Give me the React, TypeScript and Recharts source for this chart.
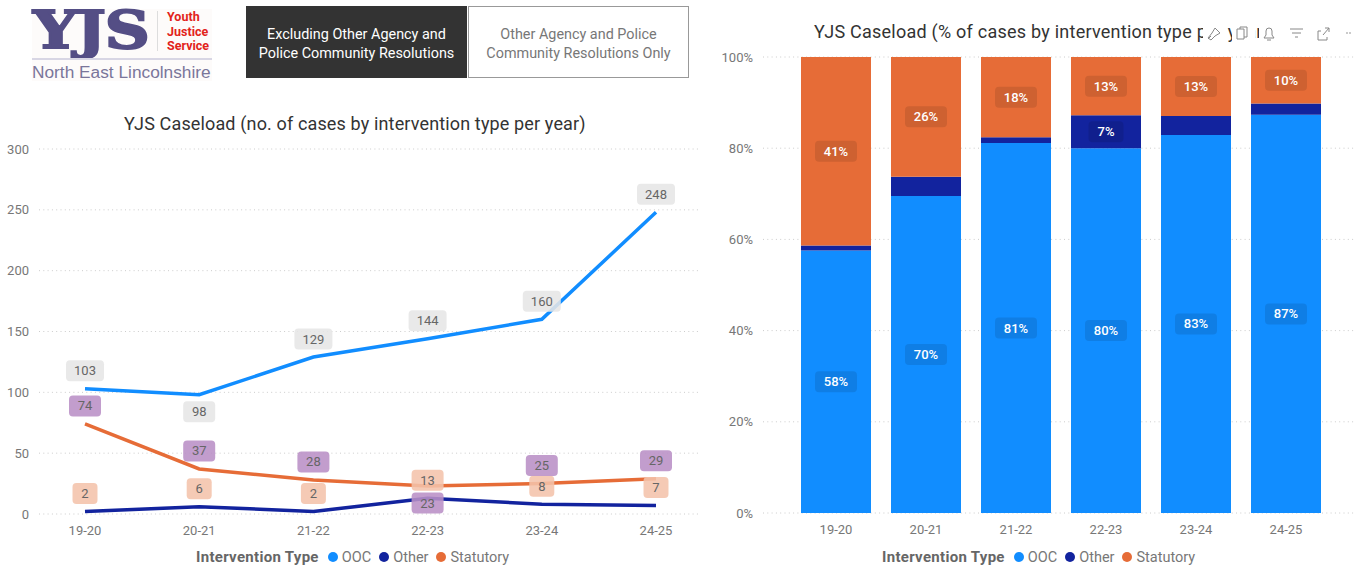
import {
  BarChart,
  Bar,
  LineChart,
  Line,
  XAxis,
  YAxis,
  CartesianGrid,
  LabelList,
} from 'recharts'

const years = ['19-20', '20-21', '21-22', '22-23', '23-24', '24-25']
const ooc = [103, 98, 129, 144, 160, 248]
const other = [2, 6, 2, 13, 8, 7]
const statutory = [74, 37, 28, 23, 25, 29]
const countTicks = [0, 50, 100, 150, 200, 250, 300]
const shareTicks = [0, 0.2, 0.4, 0.6, 0.8, 1]

const rows = years.map((year, i) => ({
  year,
  OOC: ooc[i],
  Other: other[i],
  Statutory: statutory[i],
}))

const BLUE = '#118dff'
const NAVY = '#12239e'
const ORANGE = '#e66c37'
const FONT = 'Roboto, sans-serif'
const tickStyle = { fontSize: 13, fill: '#777', fontFamily: FONT }

function pillWidth(text: string) {
  return text.length === 1 ? 25 : text.length === 2 ? 32 : 38
}

// count labels sit 18px above the line, unless the year is listed in `below`
function countLabel(fill: string, below: string[] = []) {
  return (props: any) => {
    const x = props.x ?? props.viewBox?.x
    const y = props.y ?? props.viewBox?.y
    const text = String(props.value)
    const cy = below.includes(years[props.index]) ? y + 17 : y - 18
    const w = pillWidth(text)
    return (
      <g>
        <rect x={x - w / 2} y={cy - 10.5} width={w} height={21} rx={4} fill={fill} fillOpacity={0.88} />
        <text x={x} y={cy + 4.5} textAnchor="middle" fontSize={13} fontFamily={FONT} fill="#666">
          {text}
        </text>
      </g>
    )
  }
}

// share labels are centred on the segment, small segments get none
function shareLabel(series: number[]) {
  return (props: any) => {
    const box = props.viewBox ?? props
    const i = props.index
    const share = series[i] / (ooc[i] + other[i] + statutory[i])
    if (share < 0.05) return null
    const text = `${Math.round(share * 100)}%`
    const cx = box.x + box.width / 2
    const cy = box.y + box.height / 2
    const w = text.length === 2 ? 35 : 42
    return (
      <g>
        <rect x={cx - w / 2} y={cy - 10.5} width={w} height={21} rx={4} fill="#000" fillOpacity={0.1} />
        <text x={cx} y={cy + 4.5} textAnchor="middle" fontSize={13} fontWeight={500} fontFamily={FONT} fill="#fff">
          {text}
        </text>
      </g>
    )
  }
}

function ChartLegend({ left }: { left: number }) {
  const items = [
    ['OOC', BLUE],
    ['Other', NAVY],
    ['Statutory', ORANGE],
  ]
  return (
    <div
      style={{
        position: 'absolute',
        left,
        top: 548,
        height: 18,
        display: 'flex',
        alignItems: 'center',
        fontFamily: FONT,
        fontSize: 14.5,
        color: '#777',
        whiteSpace: 'nowrap',
      }}
    >
      <b style={{ color: '#666', fontSize: 15, marginRight: 9, letterSpacing: 0.3 }}>Intervention Type</b>
      {items.map(([name, color]) => (
        <span key={name} style={{ display: 'flex', alignItems: 'center', marginRight: 8 }}>
          <i style={{ width: 10, height: 10, borderRadius: 5, background: color, marginRight: 4 }} />
          {name}
        </span>
      ))}
    </div>
  )
}

function Logo() {
  return (
    <div style={{ position: 'absolute', left: 32, top: 9, width: 180, height: 72, background: '#fdfbfa' }}>
      <div
        style={{
          position: 'absolute',
          left: 1,
          top: -9,
          fontFamily: '"DejaVu Serif", serif',
          fontWeight: 700,
          fontSize: 52,
          lineHeight: '60px',
          letterSpacing: -1,
          color: '#544e85',
          WebkitTextStroke: '2px #544e85',
          transform: 'scaleX(1.2)',
          transformOrigin: 'left center',
        }}
      >
        YJS
      </div>
      <div style={{ position: 'absolute', left: 125, top: 2, width: 1, height: 40, background: '#ddd' }} />
      <div
        style={{
          position: 'absolute',
          left: 135,
          top: 1,
          fontFamily: FONT,
          fontWeight: 700,
          fontSize: 12.5,
          lineHeight: '14.5px',
          color: '#e2231a',
        }}
      >
        Youth
        <br />
        Justice
        <br />
        Service
      </div>
      <div style={{ position: 'absolute', left: 0, top: 49, width: 180, height: 2, background: '#d8d6e4' }} />
      <div
        style={{
          position: 'absolute',
          left: 0,
          top: 53,
          width: 180,
          fontFamily: 'Liberation Sans, sans-serif',
          fontSize: 17.3,
          lineHeight: '20px',
          color: '#7a769a',
          whiteSpace: 'nowrap',
        }}
      >
        North East Lincolnshire
      </div>
    </div>
  )
}

function SlicerButton({ left, active, lines }: { left: number; active: boolean; lines: string[] }) {
  return (
    <div
      style={{
        position: 'absolute',
        left,
        top: 6,
        width: 221,
        height: 72,
        boxSizing: 'border-box',
        paddingTop: 3,
        border: `1px solid ${active ? '#333' : '#999'}`,
        background: active ? '#333' : '#fff',
        color: active ? '#fff' : '#777',
        display: 'flex',
        flexDirection: 'column',
        alignItems: 'center',
        justifyContent: 'center',
        fontFamily: FONT,
        fontSize: 14.4,
        lineHeight: '19px',
      }}
    >
      {lines.map((t) => (
        <span key={t}>{t}</span>
      ))}
    </div>
  )
}

function ChartTitle({ text, left, top, spacing }: { text: string; left: number; top: number; spacing: number }) {
  return (
    <div
      style={{
        position: 'absolute',
        left,
        top,
        fontFamily: FONT,
        fontSize: 18,
        lineHeight: '24px',
        letterSpacing: spacing,
        color: '#333',
        whiteSpace: 'nowrap',
      }}
    >
      {text}
    </div>
  )
}

// visual header icons that sit over the end of the right-hand title
function Toolbar() {
  const patches = [
    [1203, 24],
    [1232, 23],
    [1259, 103],
  ]
  const s = { fill: 'none', stroke: '#888', strokeWidth: 1 }
  return (
    <svg width={1362} height={60} style={{ position: 'absolute', left: 0, top: 0 }}>
      {patches.map(([x, w]) => (
        <rect key={x} x={x} y={20} width={w} height={26} fill="#fff" />
      ))}
      <path d="M1208 38 L1212 33 L1215 28 L1220 33 L1215 36 L1211 40 Z M1208 39 L1211 36" {...s} />
      <path d="M1237 29 h7 v10 h-7 Z M1240 29 v-2 h7 v10 h-3" {...s} />
      <path d="M1264 38 h10 l-2 -3 v-4 a3 3 0 0 0 -6 0 v4 Z M1267 40 h4" {...s} />
      <path d="M1290 29 h13 M1292 33 h9 M1295 37 h3" {...s} />
      <path d="M1318 31 v9 h9 M1318 31 h3 M1327 37 v3 M1323 35 l6 -7 M1325 28 h4 v4" {...s} />
      <circle cx={1347} cy={33} r={0.8} fill="#888" />
      <circle cx={1350} cy={33} r={0.8} fill="#888" />
    </svg>
  )
}

export default function App() {
  return (
    <div
      style={{
        position: 'absolute',
        left: 0,
        top: 0,
        width: 1362,
        height: 568,
        overflow: 'hidden',
        background: '#fff',
      }}
    >
      <Logo />
      <SlicerButton left={246} active lines={['Excluding Other Agency and', 'Police Community Resolutions']} />
      <SlicerButton left={468} active={false} lines={['Other Agency and Police', 'Community Resolutions Only']} />

      <ChartTitle text="YJS Caseload (no. of cases by intervention type per year)" left={124} top={112} spacing={0.14} />
      <div style={{ position: 'absolute', left: 0, top: 0 }}>
        <LineChart width={710} height={568} data={rows} margin={{ top: 149, right: 12, bottom: 0, left: 0 }}>
          <CartesianGrid horizontal vertical={false} stroke="#ccc" strokeDasharray="1 3.3" />
          <XAxis
            dataKey="year"
            scale="point"
            padding={{ left: 46, right: 42 }}
            height={54}
            tick={tickStyle}
            tickMargin={6}
            axisLine={false}
            tickLine={false}
          />
          <YAxis
            domain={[0, 300]}
            ticks={countTicks}
            width={39}
            tick={tickStyle}
            tickMargin={4}
            axisLine={false}
            tickLine={false}
          />
          <Line dataKey="OOC" stroke={BLUE} strokeWidth={3.5} dot={false} isAnimationActive={false}>
            <LabelList dataKey="OOC" content={countLabel('#e6e6e6', ['20-21'])} />
          </Line>
          <Line dataKey="Other" stroke={NAVY} strokeWidth={3.5} dot={false} isAnimationActive={false}>
            <LabelList dataKey="Other" content={countLabel('#f4c3ab')} />
          </Line>
          <Line dataKey="Statutory" stroke={ORANGE} strokeWidth={3.5} dot={false} isAnimationActive={false}>
            <LabelList dataKey="Statutory" content={countLabel('#b98fc6', ['22-23'])} />
          </Line>
        </LineChart>
      </div>
      <ChartLegend left={196} />

      <div style={{ position: 'absolute', left: 710, top: 0 }}>
        <BarChart
          width={652}
          height={568}
          data={rows}
          stackOffset="expand"
          barSize={70}
          margin={{ top: 57, right: 7, bottom: 0, left: 0 }}
        >
          <CartesianGrid horizontal vertical={false} stroke="#ccc" strokeDasharray="1 3.3" />
          <XAxis
            dataKey="year"
            padding={{ left: 28, right: 24 }}
            height={55}
            tick={tickStyle}
            tickMargin={6}
            axisLine={false}
            tickLine={false}
          />
          <YAxis
            domain={[0, 1]}
            ticks={shareTicks}
            tickFormatter={(v: number) => `${Math.round(v * 100)}%`}
            width={53}
            tick={tickStyle}
            tickMargin={4}
            axisLine={false}
            tickLine={false}
          />
          <Bar dataKey="OOC" stackId="a" fill={BLUE} isAnimationActive={false}>
            <LabelList dataKey="OOC" content={shareLabel(ooc)} />
          </Bar>
          <Bar dataKey="Other" stackId="a" fill={NAVY} isAnimationActive={false}>
            <LabelList dataKey="Other" content={shareLabel(other)} />
          </Bar>
          <Bar dataKey="Statutory" stackId="a" fill={ORANGE} isAnimationActive={false}>
            <LabelList dataKey="Statutory" content={shareLabel(statutory)} />
          </Bar>
        </BarChart>
      </div>
      <ChartLegend left={882} />

      <ChartTitle text="YJS Caseload (% of cases by intervention type per year)" left={814} top={20} spacing={0.24} />
      <Toolbar />
    </div>
  )
}
